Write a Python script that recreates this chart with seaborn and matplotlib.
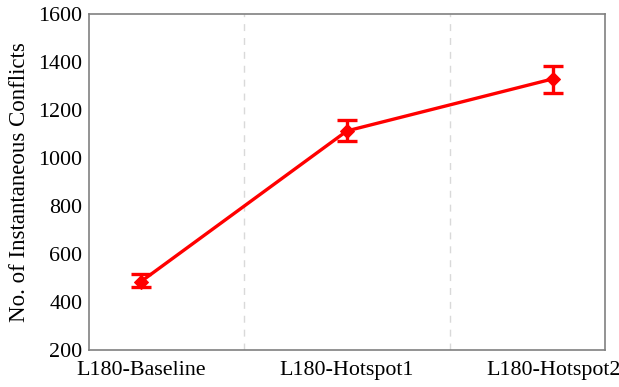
import matplotlib
matplotlib.use("Agg")
import matplotlib.pyplot as plt
import seaborn as sns
import pandas as pd

categories = ["L180-Baseline", "L180-Hotspot1", "L180-Hotspot2"]
means = [485, 1113, 1330]
err_low = [462, 1070, 1272]
err_high = [517, 1160, 1385]

sns.set_style("white")
plt.rcParams['font.family'] = ['Liberation Serif', 'DejaVu Serif']
plt.rcParams['text.color'] = 'black'
plt.rcParams['axes.labelcolor'] = 'black'
plt.rcParams['xtick.labelcolor'] = 'black'
plt.rcParams['ytick.labelcolor'] = 'black'

df = pd.DataFrame({"cat": categories, "val": means})

fig, ax = plt.subplots(figsize=(6.19, 3.87), dpi=100)
fig.subplots_adjust(left=0.144, right=0.977, top=0.964, bottom=0.095)

sns.lineplot(data=df, x="cat", y="val", ax=ax, color="red", lw=2.4,
             marker="D", markersize=7.5, markeredgecolor="red", sort=False)
x = list(range(len(categories)))
yerr = [[m - l for m, l in zip(means, err_low)], [h - m for m, h in zip(means, err_high)]]
ax.errorbar(x, means, yerr=yerr, fmt="none", ecolor="red", elinewidth=2.4,
            capsize=7, capthick=2.4)

for b in [0.5, 1.5]:
    ax.axvline(b, color="#d9d9d9", lw=1, ls=(0, (5, 5)), zorder=0)

ax.set_xlim(-0.25, 2.25)
ax.set_ylim(200, 1600)
ax.set_yticks(range(200, 1601, 200))
ax.set_xlabel("")
ax.set_ylabel("No. of Instantaneous Conflicts", fontsize=16.5, labelpad=6, color="black")
ax.tick_params(axis="both", labelsize=15.8, direction="in", length=4, color="#808080",
               labelcolor="black")
ax.tick_params(axis="x", pad=8)
ax.tick_params(axis="y", length=0, pad=5)
for s in ax.spines.values():
    s.set_color("#808080")
    s.set_linewidth(1.2)

fig.savefig("out.png", dpi=100)
